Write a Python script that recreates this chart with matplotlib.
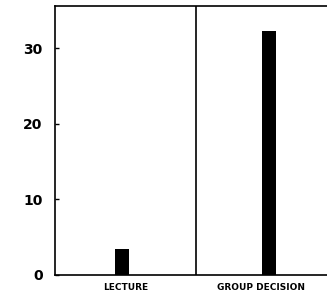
import matplotlib
matplotlib.use("Agg")
import matplotlib.pyplot as plt

# data
categories = ["LECTURE", "GROUP DECISION"]
values = [3.4, 32.3]
y_ticks = [0, 10, 20, 30]

fig = plt.figure(figsize=(3.27, 3.02), dpi=100)
# right edge of the panel runs past the picture, as in the scan
ax = fig.add_axes([55 / 327, 1 - 275 / 302, 280 / 327, 269 / 302])

x = [0, 1]
ax.bar(x, values, width=0.096, color="black")
ax.axvline(0.5, color="black", lw=1.2)

ax.set_xlim(-0.462, 1.455)
ax.set_ylim(0, 35.6)

for side in ["left", "bottom", "top", "right"]:
    ax.spines[side].set_linewidth(1.2)

ax.set_yticks(y_ticks)
ax.set_yticklabels([str(t) for t in y_ticks], fontsize=10, fontweight="semibold")
ax.tick_params(axis="y", direction="in", length=3, width=1.0, pad=9)

ax.set_xticks([0.02, 0.95])
ax.set_xticklabels(categories, fontsize=6.5, fontweight="bold")
ax.tick_params(axis="x", length=0, pad=6)

fig.savefig("out.png", dpi=100)
